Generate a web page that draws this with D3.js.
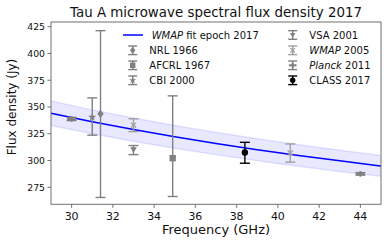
<!DOCTYPE html>
<html><head><meta charset="utf-8">
<script src="https://cdn.jsdelivr.net/npm/d3@7"></script>
<style>body{margin:0;background:#fff}svg{display:block;font-family:"DejaVu Sans",sans-serif}</style>
</head><body><svg id="c" width="390" height="245"></svg>
<script>
// ---- data ----
const xTicks = [30, 32, 34, 36, 38, 40, 42, 44];
const yTicks = [275, 300, 325, 350, 375, 400, 425];
const fitFreq  = [29, 31, 33, 35, 37, 39, 41, 43, 45];
const fitFlux  = [344.1, 336.2, 328.9, 322.1, 315.9, 310.1, 304.7, 299.7, 294.9];
const fitUpper = [355.5, 347.3, 339.8, 332.7, 326.3, 320.3, 314.8, 309.6, 304.6];
const fitLower = [332.7, 325.1, 318.0, 311.5, 305.5, 299.9, 294.6, 289.8, 285.2];
const nrlFreq = [31.4],  nrlFlux = [343.6], nrlLo = [265.5], nrlHi = [421.3];
const afcrlFreq = [34.9], afcrlFlux = [302.2], afcrlLo = [266.4], afcrlHi = [360.4];
const cbiFreq = [31.0],  cbiFlux = [340.5], cbiLo = [323.7], cbiHi = [358.5];
const vsaFreq = [33.0],  vsaFlux = [310.2], vsaLo = [305.5], vsaHi = [314.0];
const wmapFreq = [33.0, 40.6], wmapFlux = [333.0, 307.0], wmapLo = [327.0, 298.5], wmapHi = [339.0, 315.5];
const planckFreq = [30.0, 44.0], planckFlux = [338.8, 287.5], planckLo = [337.3, 286.3], planckHi = [340.3, 288.7];
const classFreq = [38.4], classFlux = [307.5], classLo = [297.5], classHi = [317.0];

const series = [
  {name:"NRL 1966", f:nrlFreq, v:nrlFlux, lo:nrlLo, hi:nrlHi, m:"diamond", c:"#808080"},
  {name:"AFCRL 1967", f:afcrlFreq, v:afcrlFlux, lo:afcrlLo, hi:afcrlHi, m:"square", c:"#808080"},
  {name:"CBI 2000", f:cbiFreq, v:cbiFlux, lo:cbiLo, hi:cbiHi, m:"star", c:"#808080"},
  {name:"VSA 2001", f:vsaFreq, v:vsaFlux, lo:vsaLo, hi:vsaHi, m:"tridown", c:"#808080"},
  {name:"WMAP 2005", it:"WMAP", rest:" 2005", f:wmapFreq, v:wmapFlux, lo:wmapLo, hi:wmapHi, m:"x", c:"#a0a0a0"},
  {name:"Planck 2011", it:"Planck", rest:" 2011", f:planckFreq, v:planckFlux, lo:planckLo, hi:planckHi, m:"plus", c:"#808080"},
  {name:"CLASS 2017", f:classFreq, v:classFlux, lo:classLo, hi:classHi, m:"circle", c:"#000000"}
];

// ---- layout ----
const L = 51, R = 381, T = 22, B = 204.3;
const x = d3.scaleLinear().domain([29, 45]).range([L, R]);
const y = d3.scaleLinear().domain([259.1, 429.4]).range([B, T]);
const svg = d3.select("#c");

// band
const band = fitFreq.map((f,i)=>({f, u:fitUpper[i], l:fitLower[i], v:fitFlux[i]}));
svg.append("path").datum(band)
  .attr("d", d3.area().x(d=>x(d.f)).y0(d=>y(d.l)).y1(d=>y(d.u)).curve(d3.curveMonotoneX))
  .attr("fill","#0000ff").attr("fill-opacity",0.09);
["u","l"].forEach(k=>{
  svg.append("path").datum(band)
    .attr("d", d3.line().x(d=>x(d.f)).y(d=>y(d[k])).curve(d3.curveMonotoneX))
    .attr("fill","none").attr("stroke","#0000ff").attr("stroke-opacity",0.1).attr("stroke-width",1.5);
});
svg.append("path").datum(band)
  .attr("d", d3.line().x(d=>x(d.f)).y(d=>y(d.v)).curve(d3.curveMonotoneX))
  .attr("fill","none").attr("stroke","#0000ff").attr("stroke-width",1.5);

// markers
function marker(g, type, cx, cy, col, k){
  k = k || 1;
  if(type==="diamond"){
    g.append("path").attr("d",`M${cx},${cy-4.2*k}L${cx+3.2*k},${cy}L${cx},${cy+4.2*k}L${cx-3.2*k},${cy}Z`).attr("fill",col);
  } else if(type==="square"){
    g.append("rect").attr("x",cx-3.2*k).attr("y",cy-3.2*k).attr("width",6.4*k).attr("height",6.4*k).attr("fill",col);
  } else if(type==="circle"){
    g.append("circle").attr("cx",cx).attr("cy",cy).attr("r",3.2*k).attr("fill",col);
  } else if(type==="tridown"){
    g.append("path").attr("d",`M${cx-3.3*k},${cy-2.4*k}L${cx+3.3*k},${cy-2.4*k}L${cx},${cy+3.3*k}Z`).attr("fill",col);
  } else if(type==="star"){
    g.append("path").attr("d", d3.symbol(d3.symbolStar, 22*k*k)()).attr("transform",`translate(${cx},${cy})`).attr("fill",col);
  } else if(type==="x"){
    const a = 2.6*k;
    g.append("path").attr("d",`M${cx-a},${cy-a}L${cx+a},${cy+a}M${cx-a},${cy+a}L${cx+a},${cy-a}`)
      .attr("stroke",col).attr("stroke-width",1.3);
  } else if(type==="plus"){
    g.append("path").attr("d",`M${cx-4.5*k},${cy}L${cx+4.5*k},${cy}`).attr("stroke",col).attr("stroke-width",2);
    g.append("path").attr("d",`M${cx},${cy-2.8*k}L${cx},${cy+2.8*k}`).attr("stroke",col).attr("stroke-width",2);
  }
}
function errbar(g, cx, y1, y2, col, cap){
  g.append("line").attr("x1",cx).attr("x2",cx).attr("y1",y1).attr("y2",y2).attr("stroke",col).attr("stroke-width",1.4);
  [y1,y2].forEach(yy=>g.append("line").attr("x1",cx-cap).attr("x2",cx+cap).attr("y1",yy).attr("y2",yy).attr("stroke",col).attr("stroke-width",1.4));
}
const pts = svg.append("g");
series.forEach(s=>{
  s.f.forEach((f,i)=>{
    const g = pts.append("g");
    errbar(g, x(f), y(s.lo[i]), y(s.hi[i]), s.c, 5);
    marker(g, s.m, x(f), y(s.v[i]), s.c);
  });
});

// frame
svg.append("rect").attr("x",L).attr("y",T).attr("width",R-L).attr("height",B-T)
  .attr("fill","none").attr("stroke","#707070").attr("stroke-width",1);

// axes ticks
const ax = svg.append("g");
xTicks.forEach(t=>{
  ax.append("line").attr("x1",x(t)).attr("x2",x(t)).attr("y1",B).attr("y2",B+3.5).attr("stroke","#707070");
  ax.append("text").attr("x",x(t)).attr("y",B+15.5).attr("text-anchor","middle").attr("font-size",11).attr("fill","#111").text(t);
});
yTicks.forEach(t=>{
  ax.append("line").attr("x1",L-3.5).attr("x2",L).attr("y1",y(t)).attr("y2",y(t)).attr("stroke","#707070");
  ax.append("text").attr("x",L-6).attr("y",y(t)+3.4).attr("text-anchor","end").attr("font-size",9.3).attr("fill","#111").text(t);
});
svg.append("text").attr("x",(L+R)/2).attr("y",234).attr("text-anchor","middle").attr("font-size",13).attr("fill","#111").text("Frequency (GHz)");
svg.append("text").attr("transform",`translate(16,107) rotate(-90)`).attr("text-anchor","middle").attr("font-size",12).attr("fill","#111").text("Flux density (Jy)");
svg.append("text").attr("x",(L+R)/2).attr("y",16.5).attr("text-anchor","middle").attr("font-size",13.4).attr("fill","#111").text("Tau A microwave spectral flux density 2017");

// legend
const lg = svg.append("g").attr("font-size",10).attr("fill","#111");
const rowY = [35, 50.3, 65.3, 80.3];
lg.append("line").attr("x1",123).attr("x2",143).attr("y1",rowY[0]).attr("y2",rowY[0]).attr("stroke","#0000ff").attr("stroke-width",1.5);
const t0 = lg.append("text").attr("x",151.7).attr("y",rowY[0]+3.6);
t0.append("tspan").attr("font-style","italic").text("WMAP");
t0.append("tspan").text(" fit epoch 2017");
const slots = [[132.7,1],[132.7,2],[132.7,3],[292.7,0],[292.7,1],[292.7,2],[292.7,3]];
series.forEach((s,i)=>{
  const [mx, r] = slots[i];
  const cy = rowY[r];
  const g = lg.append("g");
  errbar(g, mx, cy-4.3, cy+4.3, s.c, 4.5);
  marker(g, s.m, mx, cy, s.c, 0.85);
  const tx = lg.append("text").attr("x", mx+16.6).attr("y", cy+3.6);
  if(s.it){ tx.append("tspan").attr("font-style","italic").text(s.it); tx.append("tspan").text(s.rest); }
  else tx.text(s.name);
});
</script></body></html>
